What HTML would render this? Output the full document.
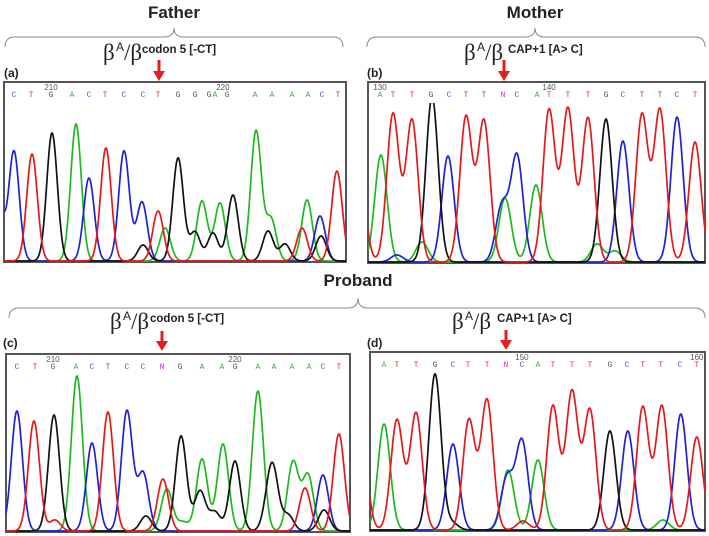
<!DOCTYPE html>
<html><head><meta charset="utf-8"><style>
html,body{margin:0;padding:0;background:#fff;}
svg{display:block;}
.title{font-family:"Liberation Sans",sans-serif;font-weight:bold;font-size:17px;fill:#222;}
.beta{font-family:"Liberation Serif",serif;font-size:23px;fill:#222;}
.sup{font-family:"Liberation Sans",sans-serif;font-size:12px;fill:#222;}
.note{font-family:"Liberation Sans",sans-serif;font-weight:bold;font-size:11.5px;fill:#222;}
.plab{font-family:"Liberation Sans",sans-serif;font-weight:bold;font-size:12px;fill:#222;}
.base{font-family:"Liberation Mono",monospace;font-size:8px;}
.num{font-family:"Liberation Sans",sans-serif;font-size:8px;fill:#555;}
</style></head><body>
<svg id="fig" width="709" height="536" viewBox="0 0 709 536">
  <text class="title" x="174" y="18" text-anchor="middle">Father</text>
  <text class="title" x="535" y="18" text-anchor="middle">Mother</text>
  <text class="title" x="358" y="286" text-anchor="middle">Proband</text>
  <path d="M5,47 Q5,37 15,37 L164,37 Q174,37 174,28 Q174,37 184,37 L333,37 Q343,37 343,47" fill="none" stroke="#888" stroke-width="1"/>
  <path d="M367,47 Q367,37 377,37 L525,37 Q535,37 535,28 Q535,37 545,37 L695,37 Q705,37 705,47" fill="none" stroke="#888" stroke-width="1"/>
  <path d="M9,318 Q9,308 19,308 L348,308 Q358,308 358,298 Q358,308 368,308 L695,308 Q705,308 705,318" fill="none" stroke="#888" stroke-width="1"/>

  <g><text class="beta" x="103" y="60">β</text><text class="sup" x="116" y="51">A</text><text class="beta" x="124" y="60">/β</text><text class="note" x="142" y="53">codon 5 [-CT]</text></g>
  <g><text class="beta" x="464" y="60">β</text><text class="sup" x="477" y="51">A</text><text class="beta" x="485" y="60">/β</text><text class="note" x="508" y="53">CAP+1 [A&gt; C]</text></g>
  <g><text class="beta" x="110" y="329">β</text><text class="sup" x="123" y="320">A</text><text class="beta" x="131" y="329">/β</text><text class="note" x="150" y="322">codon 5 [-CT]</text></g>
  <g><text class="beta" x="452" y="329">β</text><text class="sup" x="465" y="320">A</text><text class="beta" x="473" y="329">/β</text><text class="note" x="497" y="322">CAP+1 [A&gt; C]</text></g>

  <g fill="#e41e1e" stroke="#e41e1e">
    <g><line x1="159" y1="60" x2="159" y2="72" stroke-width="3"/><polygon points="153,71 165,71 159,81" stroke="none"/></g>
    <g><line x1="504" y1="60" x2="504" y2="72" stroke-width="3"/><polygon points="498,71 510,71 504,81" stroke="none"/></g>
    <g><line x1="162" y1="331" x2="162" y2="342" stroke-width="3"/><polygon points="156,341 168,341 162,351" stroke="none"/></g>
    <g><line x1="506" y1="330" x2="506" y2="341" stroke-width="3"/><polygon points="500,340 512,340 506,350" stroke="none"/></g>
  </g>
  <text class="plab" x="4" y="77">(a)</text>
  <text class="plab" x="367" y="77">(b)</text>
  <text class="plab" x="3" y="347">(c)</text>
  <text class="plab" x="367" y="347">(d)</text>
</svg>
<script>
// Panel (a) Father
const aCalls = ["C","T","G","A","C","T","C","C","T","G","G","G","A","G","A","A","A","A","C","T"];
const aCallPos = [0.58,1.58,2.75,3.98,4.97,5.91,7.02,8.13,9.01,10.18,11.17,11.99,12.34,13.04,14.68,15.67,16.84,17.78,18.6,19.53];
const aTickLabels = ["210","220"];
const aTickPos = [2.75,12.8];
const aPeakBase = ["C","C","T","G","A","C","T","C","C","G","T","A","G","G","A","G","A","G","A","G","A","G","T","A","C","G","T"];
const aPeakPos = [-0.45,0.58,1.64,2.81,4.21,4.97,5.96,7.02,8.07,8.13,9.01,9.42,10.18,11.17,11.58,12.22,12.63,13.39,14.74,15.44,15.61,16.43,17.43,17.72,18.48,18.54,19.47];
const aPeakVal = [900,1100,1070,1280,1370,830,1130,1100,590,160,500,330,1030,290,600,280,580,660,1300,300,420,170,330,610,450,250,900];

// Panel (b) Mother
const bCalls = ["A","T","T","G","C","T","T","N","C","A","T","T","T","G","C","T","T","C","T"];
const bCallPos = [0.69,1.43,2.52,3.61,4.64,5.61,6.64,7.73,8.53,9.68,10.37,11.45,12.6,13.63,14.6,15.69,16.72,17.7,18.73];
const bTickLabels = ["130","140"];
const bTickPos = [0.69,10.37];
const bPeakBase = ["T","A","T","T","G","C","T","T","C","A","C","A","T","T","T","G","C","T","T","C","T","A","A","A","C"];
const bPeakPos = [-0.5,0.74,1.43,2.52,3.67,4.58,5.61,6.64,7.67,7.85,8.53,9.62,10.37,11.45,12.6,13.63,14.6,15.69,16.72,17.7,18.73,3.09,13.12,14.15,1.66];
const bPeakVal = [900,1070,1480,1420,1650,1060,1450,1410,560,640,1060,770,1520,1530,1440,1430,1210,1470,1520,1450,1200,200,180,110,70];

// Panel (c) Proband codon 5
const cCalls = ["C","T","G","A","C","T","C","C","N","G","A","A","G","A","A","A","A","C","T"];
const cCallPos = [0.61,1.62,2.62,3.91,4.8,5.69,6.75,7.65,8.71,9.71,10.94,12.05,12.78,14.06,14.96,15.96,16.91,17.69,18.58];
const cTickLabels = ["210","220"];
const cTickPos = [2.62,12.78];
const cPeakBase = ["C","T","G","A","C","T","C","C","G","T","A","G","G","A","G","A","G","A","G","G","A","A","T","A","C","G","T","T","A"];
const cPeakPos = [0.61,1.56,2.68,3.96,4.8,5.69,6.75,7.65,7.81,8.76,8.98,9.77,10.83,10.94,11.66,12.11,12.78,14.06,14.9,14.62,15.74,16.02,16.69,16.85,17.69,17.75,18.58,2.73,9.88];
const cPeakVal = [1200,1100,1160,1550,880,1190,1200,580,150,520,420,950,400,720,190,870,700,1400,570,160,160,690,430,560,560,210,970,110,90];
cPeakBase[20] = "G";

// Panel (d) Proband CAP+1
const dCalls = ["A","T","T","G","C","T","T","N","C","A","T","T","T","G","C","T","T","C","T"];
const dCallPos = [0.81,1.55,2.65,3.74,4.77,5.64,6.73,7.82,8.74,9.66,10.52,11.62,12.65,13.8,14.78,15.69,16.73,17.83,18.8];
const dTickLabels = ["150","160"];
const dTickPos = [8.74,18.8];
const dPeakBase = ["T","A","T","T","G","C","T","T","C","A","C","A","T","T","T","G","C","T","T","C","T","G","T","A"];
const dPeakPos = [-0.5,0.81,1.55,2.65,3.74,4.77,5.69,6.73,7.88,7.94,8.74,9.66,10.52,11.62,12.65,13.8,14.83,15.69,16.79,17.88,18.8,4.72,8.8,16.85];
const dPeakVal = [900,1060,1100,1170,1560,860,1100,1300,520,600,890,700,1240,1380,1200,990,990,1230,1240,1160,930,70,90,100];

const panels = [
  {id:"a", left:4, top:82, w:342, h:180, span:20, sigma:0.31, calls:aCalls, callPos:aCallPos, ticks:aTickLabels, tickPos:aTickPos, pb:aPeakBase, pp:aPeakPos, pv:aPeakVal},
  {id:"b", left:368, top:82, w:337, h:181, span:19.3, sigma:0.35, calls:bCalls, callPos:bCallPos, ticks:bTickLabels, tickPos:bTickPos, pb:bPeakBase, pp:bPeakPos, pv:bPeakVal},
  {id:"c", left:6, top:354, w:344, h:178, span:19.2, sigma:0.31, calls:cCalls, callPos:cCallPos, ticks:cTickLabels, tickPos:cTickPos, pb:cPeakBase, pp:cPeakPos, pv:cPeakVal},
  {id:"d", left:370, top:352, w:335, h:179, span:19.27, sigma:0.35, calls:dCalls, callPos:dCallPos, ticks:dTickLabels, tickPos:dTickPos, pb:dPeakBase, pp:dPeakPos, pv:dPeakVal}
];
const traceColor = {A:"#1fb81f", C:"#2020d8", G:"#111111", T:"#e41a1a"};
const callColor = {A:"#33bb33", C:"#5555dd", G:"#555555", T:"#dd3333", N:"#dd22dd"};
const NS = "http://www.w3.org/2000/svg";
const svg = document.getElementById("fig");
function mk(tag, attrs){ const e=document.createElementNS(NS,tag); for(const k in attrs) e.setAttribute(k,attrs[k]); return e; }

panels.forEach(p=>{
  const xS = v => p.left + v / p.span * p.w;
  const base = p.top + p.h - 1;
  const yS = v => base - v / 10;
  const g = mk("g",{});
  
  
  svg.appendChild(g);
  const clip = mk("clipPath",{id:"clip"+p.id});
  clip.appendChild(mk("rect",{x:p.left, y:p.top+21, width:p.w, height:p.h-21}));
  g.appendChild(clip);
  const box = mk("rect",{x:p.left, y:p.top, width:p.w, height:p.h, fill:"#fff", stroke:"#555", "stroke-width":2});
  
  
  g.appendChild(box);
  ["A","C","G","T"].forEach(b=>{
    let pts=[];
    for(let px=0; px<=p.w; px+=0.5){
      const u = px / p.w * p.span;
      let s=0;
      for(let i=0;i<p.pb.length;i++){
        if(p.pb[i]!==b) continue;
        const d=u-p.pp[i];
        s += p.pv[i]*Math.exp(-d*d/(2*p.sigma*p.sigma));
      }
      pts.push(xS(u).toFixed(2)+","+yS(s).toFixed(2));
    }
    const pl = mk("polyline",{points:pts.join(" "), fill:"none", stroke:traceColor[b], "stroke-width":1.7, "clip-path":"url(#clip"+p.id+")"});
    
    
    g.appendChild(pl);
  });
  p.calls.forEach((c,i)=>{
    const t = mk("text",{x:xS(p.callPos[i]), y:p.top+15, "text-anchor":"middle", class:"base", fill:callColor[c]});
    t.textContent=c;
    
    
    g.appendChild(t);
  });
  p.ticks.forEach((lab,i)=>{
    const t = mk("text",{x:xS(p.tickPos[i]), y:p.top+8, "text-anchor":"middle", class:"num"});
    t.textContent=lab;
    
    
    g.appendChild(t);
  });
});
</script>
</body></html>
